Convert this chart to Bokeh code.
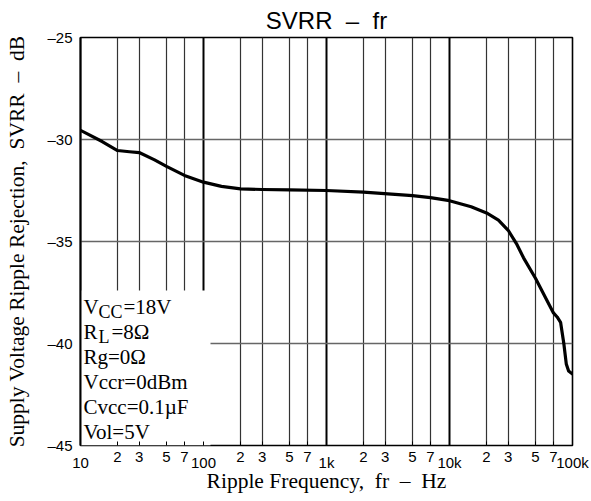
from bokeh.plotting import figure
from bokeh.models import LogAxis, FixedTicker, Grid, Label, Range1d
from bokeh.embed import file_html
from bokeh.resources import INLINE

# ---- data ----
freq_hz = [10, 15, 20, 25, 30, 40, 50, 70, 100, 140, 200, 300, 500, 1000,
           2000, 5000, 7000, 10000, 15000, 20000, 25000, 30000, 35000,
           40000, 50000, 70000, 75000, 80000, 85000, 89000, 93000, 100000]
svrr_db = [-29.55, -30.1, -30.54, -30.6, -30.64, -31.0, -31.32, -31.76,
           -32.09, -32.3, -32.42, -32.45, -32.47, -32.5, -32.58, -32.75,
           -32.85, -33.0, -33.3, -33.6, -33.95, -34.45, -35.1, -35.8,
           -36.8, -38.5, -38.7, -38.96, -40.0, -41.0, -41.35, -41.5]

minor_ticks = [20, 30, 50, 70, 200, 300, 500, 700, 2000, 3000, 5000, 7000,
               20000, 30000, 50000, 70000]
minor_labels = ["2", "3", "5", "7"] * 4
decade_ticks = [10, 100, 1000, 10000, 100000]
decade_labels = ["10", "100", "1k", "10k", "100k"]
y_ticks = [-45, -40, -35, -30, -25]
y_labels = ["\u201345", "\u201340", "\u201335", "\u201330", "\u201325"]
y_grid = [-40, -35, -30]
x_grid_decades = [100, 1000, 10000]

NB = "\u00a0"
title_text = "SVRR" + NB * 2 + "\u2013" + NB * 2 + "fr"
x_title = "Ripple Frequency," + NB * 2 + "fr" + NB * 2 + "\u2013" + NB * 2 + "Hz"
y_title = ("Supply Voltage Ripple Rejection," + NB * 2 + "SVRR" + NB * 2
           + "\u2013" + NB * 2 + "dB")

cond_main = ["V", "R", "Rg=0\u03a9", "Vccr=0dBm", "Cvcc=0.1\u00b5F", "Vol=5V"]
cond_sub = ["CC", "L"]
cond_rest = ["=18V", "=8\u03a9"]

SANS = "Liberation Sans"
SERIF = "Liberation Serif"

p = figure(width=591, height=501, x_axis_type="log",
           x_range=Range1d(10, 100000), y_range=Range1d(-45, -25),
           output_backend="svg", toolbar_location=None,
           min_border_left=80, min_border_right=19,
           min_border_top=37, min_border_bottom=56)

p.title.text = title_text
p.title.align = "center"
p.title.text_font = SANS
p.title.text_font_size = "24px"
p.title.text_font_style = "normal"
p.title.text_color = "black"
p.title.standoff = 8

p.outline_line_color = "black"
p.outline_line_width = 1.6
p.background_fill_color = "white"
p.border_fill_color = "white"

p.xgrid.visible = False
p.ygrid.visible = False

# grids
p.add_layout(Grid(dimension=0, ticker=FixedTicker(ticks=minor_ticks),
                  grid_line_color="#333333", grid_line_width=1.2))
p.add_layout(Grid(dimension=0, ticker=FixedTicker(ticks=x_grid_decades),
                  grid_line_color="black", grid_line_width=2))
p.add_layout(Grid(dimension=1, ticker=FixedTicker(ticks=y_grid),
                  grid_line_color="#666666", grid_line_width=1.6))

# y axis
ya = p.yaxis[0]
ya.ticker = FixedTicker(ticks=y_ticks)
ya.major_label_overrides = dict(zip(y_ticks, y_labels))
ya.major_label_text_font = SANS
ya.major_label_text_font_size = "15px"
ya.major_label_text_color = "black"
ya.major_tick_in = 0
ya.major_tick_out = 0
ya.minor_tick_line_color = None
ya.axis_line_color = "black"
ya.axis_line_width = 2
ya.major_label_standoff = 8
ya.axis_label = y_title
ya.axis_label_text_font = SERIF
ya.axis_label_text_font_size = "21.5px"
ya.axis_label_text_font_style = "normal"
ya.axis_label_text_color = "black"
ya.axis_label_standoff = 15

# x axis A: minor labels
xa = p.xaxis[0]
xa.ticker = FixedTicker(ticks=minor_ticks + x_grid_decades)
xa.major_label_overrides = {**dict(zip(minor_ticks, minor_labels)),
                            **{t: "" for t in x_grid_decades}}
xa.major_label_text_font = SANS
xa.major_label_text_font_size = "15px"
xa.major_label_text_color = "black"
xa.major_tick_in = 4
xa.major_tick_out = 0
xa.major_tick_line_color = "black"
xa.minor_tick_line_color = None
xa.axis_line_color = None
xa.major_label_standoff = 6

# x axis B: decade labels
xb = LogAxis(ticker=FixedTicker(ticks=decade_ticks))
xb.major_label_overrides = dict(zip(decade_ticks, decade_labels))
xb.major_label_text_font = SANS
xb.major_label_text_font_size = "15px"
xb.major_label_text_color = "black"
xb.major_tick_line_color = None
xb.minor_tick_line_color = None
xb.axis_line_color = None
xb.major_label_standoff = -17
xb.axis_label = x_title
xb.axis_label_text_font = SERIF
xb.axis_label_text_font_size = "21.5px"
xb.axis_label_text_font_style = "normal"
xb.axis_label_text_color = "black"
xb.axis_label_standoff = -5
p.add_layout(xb, "below")

# white background behind the conditions text
p.quad(left=10, right=114, bottom=-45, top=-37.4,
       fill_color="white", line_color=None)

# curve
p.line(freq_hz, svrr_db, line_color="black", line_width=3.2,
       line_join="round", line_cap="round")

# conditions text
base_offsets = [139, 114, 89, 64, 39, 14]
for txt, yo in zip(cond_main, base_offsets):
    p.add_layout(Label(x=10, y=-45, x_offset=3, y_offset=yo, text=txt,
                       text_font=SERIF, text_font_size="21px",
                       text_color="black", text_baseline="alphabetic"))
for txt, yo, xo in zip(cond_sub, base_offsets[:2], [18, 18]):
    p.add_layout(Label(x=10, y=-45, x_offset=xo, y_offset=yo - 5, text=txt,
                       text_font=SERIF, text_font_size="18px",
                       text_color="black", text_baseline="alphabetic"))
for txt, yo, xo in zip(cond_rest, base_offsets[:2], [43, 31]):
    p.add_layout(Label(x=10, y=-45, x_offset=xo, y_offset=yo, text=txt,
                       text_font=SERIF, text_font_size="21px",
                       text_color="black", text_baseline="alphabetic"))

open("out.html", "w").write(file_html(p, INLINE))
